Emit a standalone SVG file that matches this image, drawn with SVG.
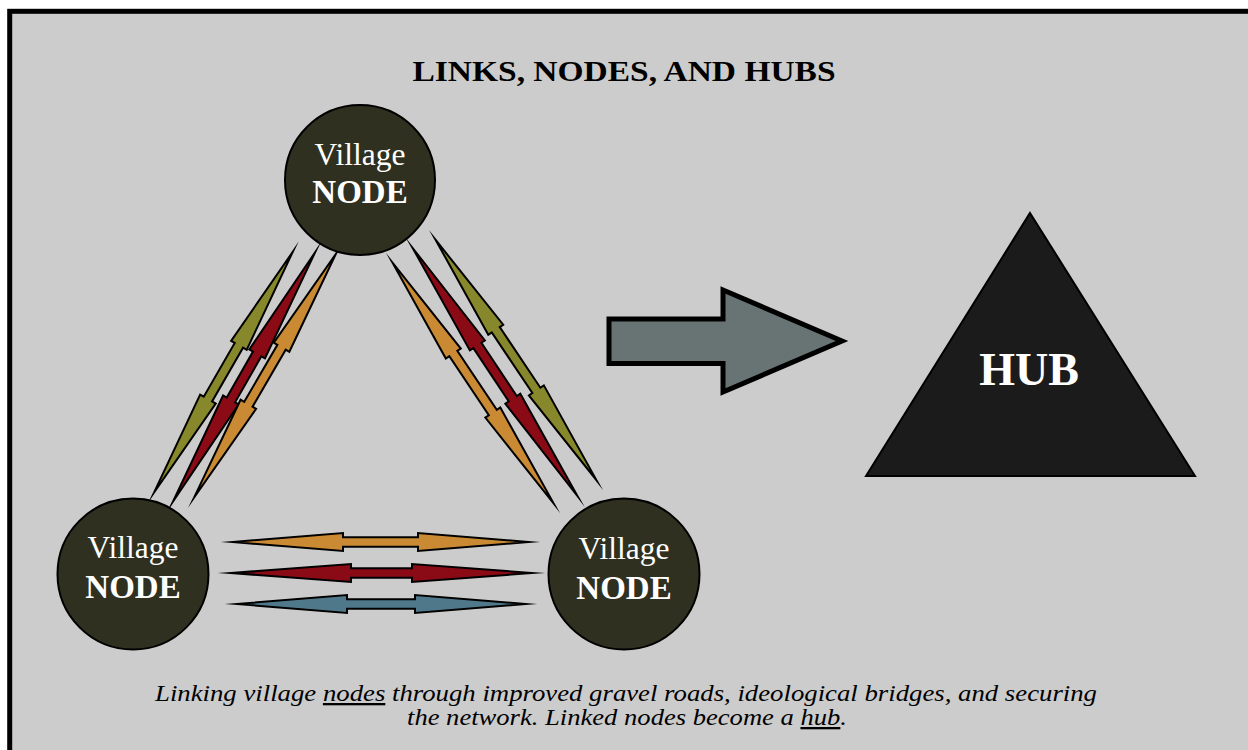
<svg xmlns="http://www.w3.org/2000/svg" width="1248" height="750" viewBox="0 0 1248 750">
<style>
.node circle{fill:#2f301f;stroke:#000;stroke-width:2}
.nt{font-family:"Liberation Serif","Times New Roman",serif;fill:#fff;text-anchor:middle}
.v{font-size:31.5px}
.b{font-size:33px;font-weight:bold}
.lnk{stroke:#000;stroke-width:2;stroke-linejoin:miter;stroke-miterlimit:16}
.o{fill:#c98a33}.r{fill:#8a0b16}.g{fill:#87872b}.bl{fill:#4f788a}
.cap{font-family:"Liberation Serif","Times New Roman",serif;font-style:italic;font-size:23px;fill:#000;text-anchor:middle}
</style>
<rect x="0" y="0" width="1248" height="750" fill="#fff"/>
<rect x="9.7" y="11.3" width="1250" height="750" fill="#cccccc" stroke="#000" stroke-width="5"/>
<text x="624" y="81" font-family="Liberation Serif, Times New Roman, serif" font-weight="bold" font-size="29" text-anchor="middle" fill="#000" textLength="423" lengthAdjust="spacingAndGlyphs">LINKS, NODES, AND HUBS</text>
<g id="connectors">
<polygon class="lnk o" transform="translate(221,542)" points="12,0 122,-9 122,-4.8 197,-4.8 197,-9 307,0 197,9 197,4.8 122,4.8 122,9"/>
<polygon class="lnk r" transform="translate(219,573)" points="12,0 132,-9 132,-4.8 193,-4.8 193,-9 313,0 193,9 193,4.8 132,4.8 132,9"/>
<polygon class="lnk bl" transform="translate(225,604)" points="12,0 122,-9 122,-4.8 190,-4.8 190,-9 300,0 190,9 190,4.8 122,4.8 122,9"/>
<polygon class="lnk g" transform="translate(148,503) rotate(-60.04)" points="12,0 120,-9 120,-4.8 182,-4.8 182,-9 290,0 182,9 182,4.8 120,4.8 120,9"/>
<polygon class="lnk r" transform="translate(167,512) rotate(-60.3)" points="12,0 129,-9 129,-4.8 182,-4.8 182,-9 299,0 182,9 182,4.8 129,4.8 129,9"/>
<polygon class="lnk o" transform="translate(188,508) rotate(-59.8)" points="12,0 120,-9 120,-4.8 186,-4.8 186,-9 294,0 186,9 186,4.8 120,4.8 120,9"/>
<polygon class="lnk o" transform="translate(386,253) rotate(56.2)" points="12,0 121,-9 121,-4.8 192,-4.8 192,-9 301,0 192,9 192,4.8 121,4.8 121,9"/>
<polygon class="lnk r" transform="translate(406,238) rotate(56.4)" points="12,0 129,-9 129,-4.8 193,-4.8 193,-9 310,0 193,9 193,4.8 129,4.8 129,9"/>
<polygon class="lnk g" transform="translate(429,230) rotate(56.2)" points="12,0 120,-9 120,-4.8 193,-4.8 193,-9 301,0 193,9 193,4.8 120,4.8 120,9"/>
<polygon id="bigArrow" fill="#687474" stroke="#000" stroke-width="5" stroke-linejoin="miter" points="609,319 723,319 723,290 842,341 723,392 723,363.5 609,363.5"/>
</g>
<g id="node-top" class="node">
<circle cx="360" cy="180" r="75"/>
<text class="nt v" x="360" y="165">Village</text>
<text class="nt b" x="360" y="203">NODE</text>
</g>
<g id="node-left" class="node">
<circle cx="133" cy="574" r="75.5"/>
<text class="nt v" x="133" y="558">Village</text>
<text class="nt b" x="133" y="598">NODE</text>
</g>
<g id="node-right" class="node">
<circle cx="624" cy="574" r="75.5"/>
<text class="nt v" x="624" y="559">Village</text>
<text class="nt b" x="624" y="599">NODE</text>
</g>
<g id="hub">
<polygon points="1030,213 1195,476 866,476" fill="#1b1b1b" stroke="#000" stroke-width="2"/>
<text x="1029" y="385" font-family="Liberation Serif, Times New Roman, serif" font-weight="bold" font-size="46" text-anchor="middle" fill="#fff">HUB</text>
</g>
<text class="cap" x="626" y="701" textLength="942" lengthAdjust="spacingAndGlyphs">Linking village <tspan text-decoration="underline">nodes</tspan> through improved gravel roads, ideological bridges, and securing</text>
<text class="cap" x="627" y="725" textLength="440" lengthAdjust="spacingAndGlyphs">the network. Linked nodes become a <tspan text-decoration="underline">hub</tspan>.</text>
</svg>
